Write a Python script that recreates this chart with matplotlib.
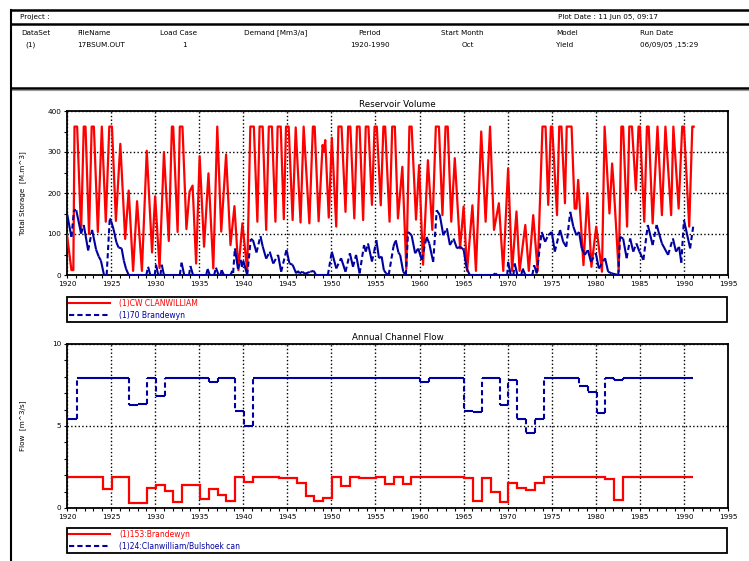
import numpy as np
import matplotlib
matplotlib.use("Agg")
import matplotlib.pyplot as plt
from matplotlib.collections import LineCollection
from matplotlib.lines import Line2D

plt.rcParams['font.family'] = ['DejaVu Sans']

RED = '#ff0000'
BLUE = '#0000a0'

# --- Reservoir volume (turning points) ---
cw_t = [1920.0, 1920.5, 1920.72, 1920.85, 1921.15, 1921.6, 1921.9, 1922.1, 1922.5, 1922.8,
        1923.05, 1923.5, 1923.95, 1924.4, 1924.8, 1925.1, 1925.55, 1926.05, 1926.6, 1927.0,
        1927.5, 1927.95, 1928.5, 1929.05, 1929.65, 1930.0, 1930.5, 1931.0, 1931.55, 1931.9,
        1932.05, 1932.55, 1932.8, 1933.1, 1933.55, 1933.9, 1934.25, 1934.65, 1935.05, 1935.55,
        1936.05, 1936.6, 1937.05, 1937.5, 1938.05, 1938.55, 1939.0, 1939.45, 1939.9, 1940.45,
        1940.8, 1941.2, 1941.6, 1941.85, 1942.2, 1942.6, 1942.9, 1943.25, 1943.65, 1943.9,
        1944.25, 1944.6, 1944.85, 1945.15, 1945.6, 1945.95, 1946.5, 1946.85, 1947.5, 1947.9,
        1948.1, 1948.55, 1949.0, 1949.15, 1949.3, 1949.7, 1950.05, 1950.55, 1950.8, 1951.15,
        1951.6, 1951.9, 1952.15, 1952.6, 1952.9, 1953.2, 1953.6, 1953.9, 1954.2, 1954.6,
        1954.9, 1955.15, 1955.6, 1955.9, 1956.1, 1956.6, 1956.9, 1957.2, 1957.55, 1958.05,
        1958.5, 1958.85, 1959.1, 1959.6, 1959.95, 1960.4, 1960.95, 1961.45, 1961.85, 1962.2,
        1962.6, 1962.95, 1963.2, 1963.6, 1964.0, 1964.6, 1965.0, 1965.4, 1966.0, 1966.4,
        1967.0, 1967.5, 1968.0, 1968.45, 1969.0, 1969.5, 1970.05, 1970.5, 1971.0, 1971.35,
        1972.0, 1972.4, 1972.9, 1973.4, 1973.95, 1974.3, 1974.6, 1974.9, 1975.05, 1975.6,
        1975.85, 1976.1, 1976.5, 1976.7, 1977.25, 1977.6, 1977.8, 1978.0, 1978.6, 1979.05,
        1979.5, 1980.05, 1980.7, 1981.0, 1981.55, 1981.85, 1982.0, 1982.6, 1982.9, 1983.1,
        1983.55, 1983.8, 1984.1, 1984.55, 1984.85, 1985.0, 1985.5, 1985.8, 1986.0, 1986.45,
        1987.0, 1987.5, 1987.9, 1988.55, 1988.8, 1989.4, 1989.8, 1990.0, 1990.6, 1990.95,
        1991.1]
cw_v = [98, 12, 12, 362, 362, 105, 362, 362, 100, 362,
        362, 105, 362, 130, 362, 362, 132, 320, 88, 206,
        10, 180, 10, 303, 55, 192, 17, 300, 83, 362,
        362, 105, 362, 362, 112, 203, 218, 28, 290, 69,
        248, 16, 362, 106, 294, 73, 168, 12, 126, 10,
        362, 362, 130, 362, 362, 110, 362, 362, 130, 362,
        362, 136, 362, 362, 134, 360, 128, 362, 126, 362,
        362, 131, 317, 300, 329, 140, 335, 118, 362, 362,
        154, 362, 362, 138, 362, 362, 134, 362, 362, 171,
        362, 362, 170, 362, 362, 130, 362, 362, 138, 264,
        15, 362, 362, 135, 268, 25, 280, 110, 362, 362,
        146, 362, 362, 130, 285, 65, 167, 10, 170, 10,
        350, 130, 362, 110, 175, 10, 260, 10, 155, 10,
        122, 10, 146, 10, 362, 362, 171, 362, 362, 146,
        362, 362, 175, 362, 362, 162, 162, 232, 24, 200,
        20, 118, 8, 362, 150, 272, 228, 8, 362, 362,
        118, 362, 362, 207, 362, 362, 130, 362, 362, 126,
        362, 146, 362, 146, 362, 162, 362, 362, 118, 362,
        362]

br_t = [1920.0, 1920.5, 1920.8, 1921.05, 1921.6, 1921.9, 1922.4, 1922.85, 1923.3, 1923.6,
        1923.85, 1924.2, 1924.5, 1924.85, 1925.0, 1925.3, 1925.6, 1925.85, 1926.2, 1926.45,
        1926.7, 1927.0, 1929.0, 1929.2, 1929.45, 1929.95, 1930.1, 1930.35, 1930.6, 1930.75,
        1931.0, 1932.8, 1933.0, 1933.3, 1933.85, 1934.0, 1934.3, 1935.8, 1935.95, 1936.2,
        1936.7, 1936.9, 1937.2, 1937.4, 1937.55, 1937.8, 1938.55, 1938.75, 1938.85, 1939.05,
        1939.4, 1939.7, 1939.85, 1940.0, 1940.45, 1940.85, 1941.1, 1941.5, 1941.95, 1942.2,
        1942.6, 1943.0, 1943.4, 1943.95, 1944.3, 1944.9, 1945.25, 1945.6, 1946.0, 1946.2,
        1946.4, 1946.7, 1947.0, 1947.6, 1948.0, 1948.25, 1949.6, 1950.05, 1950.55, 1951.1,
        1951.6, 1952.1, 1952.45, 1952.8, 1953.2, 1953.7, 1953.9, 1954.15, 1954.6, 1954.85,
        1955.1, 1955.4, 1955.7, 1955.95, 1956.2, 1956.5, 1957.05, 1957.3, 1957.6, 1957.8,
        1958.15, 1958.45, 1958.7, 1959.1, 1959.5, 1959.85, 1960.25, 1960.8, 1961.1, 1961.55,
        1961.95, 1962.3, 1962.7, 1963.1, 1963.45, 1963.85, 1964.25, 1964.6, 1965.0, 1965.35,
        1965.7, 1968.35, 1968.6, 1968.8, 1969.95, 1970.05, 1970.35, 1970.65, 1970.8, 1971.1,
        1971.55, 1971.7, 1972.0, 1972.8, 1973.0, 1973.3, 1973.85, 1974.25, 1974.6, 1975.0,
        1975.35, 1975.95, 1976.3, 1976.65, 1977.1, 1977.45, 1977.8, 1978.1, 1978.4, 1978.75,
        1979.1, 1979.45, 1980.0, 1980.35, 1981.05, 1981.4, 1981.8, 1982.55, 1982.75, 1983.1,
        1983.5, 1983.9, 1984.25, 1984.6, 1984.95, 1985.4, 1985.9, 1986.45, 1986.9, 1987.5,
        1988.2, 1988.75, 1989.1, 1989.45, 1989.7, 1990.0, 1990.35, 1990.7, 1991.05]
br_v = [150, 93, 158, 158, 101, 122, 60, 110, 62, 45,
        35, 0, 0, 138, 132, 110, 80, 67, 65, 35,
        15, 0, 0, 20, 0, 0, 25, 0, 0, 25,
        0, 0, 30, 0, 0, 22, 0, 0, 15, 0,
        0, 18, 0, 0, 12, 0, 0, 10, 5, 65,
        15, 37, 20, 35, 0, 88, 85, 55, 95, 70,
        40, 57, 28, 49, 8, 61, 28, 25, 4, 10,
        4, 8, 3, 8, 10, 0, 0, 57, 16, 41,
        8, 53, 20, 49, 4, 73, 57, 77, 33, 57,
        85, 41, 45, 12, 4, 0, 70, 85, 55, 49,
        8, 0, 105, 97, 53, 65, 37, 93, 77, 32,
        158, 146, 97, 114, 73, 89, 65, 69, 62, 16,
        0, 0, 4, 0, 0, 32, 0, 0, 28, 0,
        0, 16, 0, 0, 24, 4, 105, 81, 97, 105,
        57, 110, 81, 69, 154, 118, 97, 105, 65, 49,
        61, 32, 53, 16, 41, 8, 4, 0, 93, 89,
        41, 89, 57, 77, 57, 37, 122, 73, 122, 77,
        49, 89, 57, 69, 30, 134, 100, 65, 118]

# --- Annual channel flow (one value per year) ---
years = np.arange(1920, 1992) + 0.08
flow_brandewyn = [1.9, 1.9, 1.9, 1.9, 1.15, 1.9, 1.9, 0.3, 0.3, 1.2,
                  1.4, 1.05, 0.35, 1.4, 1.38, 0.55, 1.15, 0.8, 0.4, 1.9,
                  1.6, 1.9, 1.9, 1.9, 1.8, 1.85, 1.5, 0.75, 0.45, 0.6,
                  1.9, 1.35, 1.9, 1.8, 1.85, 1.9, 1.45, 1.9, 1.45, 1.9,
                  1.9, 1.9, 1.9, 1.9, 1.9, 1.8, 0.45, 1.8, 1.0, 0.35,
                  1.5, 1.2, 1.1, 1.5, 1.9, 1.9, 1.9, 1.9, 1.9, 1.9,
                  1.9, 1.75, 0.5, 1.9, 1.9, 1.9, 1.9, 1.9, 1.9, 1.9,
                  1.9]
flow_canal = [5.45, 7.9, 7.9, 7.9, 7.9, 7.9, 7.9, 6.3, 6.35, 7.9,
              6.85, 7.9, 7.9, 7.9, 7.9, 7.9, 7.7, 7.9, 7.9, 5.9,
              5.0, 7.9, 7.9, 7.9, 7.9, 7.9, 7.9, 7.9, 7.9, 7.9,
              7.9, 7.9, 7.9, 7.9, 7.9, 7.9, 7.9, 7.9, 7.9, 7.9,
              7.7, 7.9, 7.9, 7.9, 7.9, 5.9, 5.83, 7.9, 7.9, 6.3,
              7.83, 5.45, 4.57, 5.45, 7.9, 7.9, 7.9, 7.9, 7.45, 7.05,
              5.8, 7.9, 7.8, 7.9, 7.9, 7.9, 7.9, 7.9, 7.9, 7.9,
              7.9]

W, H = 749, 561
fig = plt.figure(figsize=(W / 100, H / 100), dpi=100)

# page / header drawn in pixel coordinates
bg = fig.add_axes([0, 0, 1, 1])
bg.set_xlim(0, W)
bg.set_ylim(H, 0)
bg.axis('off')
bg.plot([11, W], [10, 10], color='black', lw=1.8)
bg.plot([11, W], [24, 24], color='black', lw=1.8)
bg.plot([11, W], [88, 88], color='black', lw=1.8)
bg.plot([11, W], [90, 90], color='#999999', lw=0.8)
bg.plot([11, 11], [10, H], color='black', lw=1.5)

hfs = 5.2
bg.text(20, 17, 'Project :', fontsize=hfs, va='center')
bg.text(558, 17, 'Plot Date : 11 Jun 05, 09:17', fontsize=hfs, va='center')
head = ['DataSet', 'FileName', 'Load Case', 'Demand [Mm3/a]', 'Period', 'Start Month', 'Model', 'Run Date']
head_x = [21, 77, 160, 244, 358, 441, 556, 640]
row = ['(1)', '17BSUM.OUT', '1', '', '1920-1990', 'Oct', 'Yield', '06/09/05 ,15:29']
row_x = [25, 77, 182, 244, 350, 462, 556, 640]
for s, x in zip(head, head_x):
    bg.text(x, 33, s, fontsize=hfs, va='center')
for s, x in zip(row, row_x):
    bg.text(x, 45, s, fontsize=hfs, va='center')


def setup(ax, ymax, ystep, yminor, title, ylabel):
    ax.set_xlim(1920, 1995)
    ax.set_ylim(0, ymax)
    ax.set_xticks(np.arange(1920, 1996, 5))
    ax.set_xticks(np.arange(1920, 1996, 1), minor=True)
    ax.set_yticks(np.arange(0, ymax + 1, ystep))
    ax.set_yticks(np.arange(0, ymax + 0.01, yminor), minor=True)
    ax.grid(True, which='major', color='black', linestyle=':', linewidth=1.0)
    ax.tick_params(which='both', direction='out', length=2.5, width=0.8, labelsize=5.2, pad=1.5)
    for sp in ax.spines.values():
        sp.set_linewidth(1.3)
    ax.set_title(title, fontsize=6.3, pad=3)
    ax.set_ylabel(ylabel, fontsize=5.2)
    ax.yaxis.set_label_coords(-(67 - 26) / 661, 0.5)


ax1 = fig.add_axes([67 / W, 1 - 275 / H, 661 / W, 164 / H])
setup(ax1, 400, 100, 50, 'Reservoir Volume', 'Total Storage  [M.m^3]')
ax1.plot(cw_t, cw_v, color=RED, lw=1.6, zorder=3)

# Brandewyn: falls drawn solid, rises dashed (as in the source plot)
pts = np.column_stack([br_t, br_v])
segs = np.stack([pts[:-1], pts[1:]], axis=1)
rise = np.diff(br_v) > 0
ax1.add_collection(LineCollection(segs[~rise], colors=BLUE, linewidths=1.5, zorder=4))
ax1.add_collection(LineCollection(segs[rise], colors=BLUE, linewidths=1.5,
                                  linestyles=[(0, (2.5, 1.5))], zorder=4))

h_red = Line2D([], [], color=RED, lw=1.5)
h_blue = Line2D([], [], color=BLUE, lw=1.5, linestyle=(0, (2.5, 1.5)))
leg_kw = dict(loc='upper left', mode='expand', borderaxespad=0, fontsize=5.5,
              handlelength=5.4, handletextpad=1.2, labelspacing=0.4, borderpad=0.25,
              fancybox=False, edgecolor='black', framealpha=1, labelcolor=[RED, BLUE])
lg1 = ax1.legend([h_red, h_blue], ['(1)CW CLANWILLIAM', '(1)70 Brandewyn'],
                 bbox_to_anchor=(0, (275 - 297) / 164, 660 / 661, 0), **leg_kw)
lg1.get_frame().set_linewidth(1.3)

ax2 = fig.add_axes([67 / W, 1 - 508 / H, 661 / W, 164 / H])
setup(ax2, 10, 5, 1, 'Annual Channel Flow', 'Flow  [m^3/s]')
ax2.stairs(flow_brandewyn, years, color=RED, lw=1.6, baseline=None, zorder=3)
fc = np.array(flow_canal)
ax2.hlines(fc, years[:-1], years[1:], color=BLUE, lw=1.5, zorder=4)
ax2.vlines(years[1:-1], fc[:-1], fc[1:], color=BLUE, lw=1.5, linestyles=[(0, (2.5, 1.5))], zorder=4)

lg2 = ax2.legend([h_red, h_blue], ['(1)153:Brandewyn', '(1)24:Clanwilliam/Bulshoek can'],
                 bbox_to_anchor=(0, (508 - 528) / 164, 660 / 661, 0), **leg_kw)
lg2.get_frame().set_linewidth(1.3)

fig.savefig('out.png', dpi=100)
